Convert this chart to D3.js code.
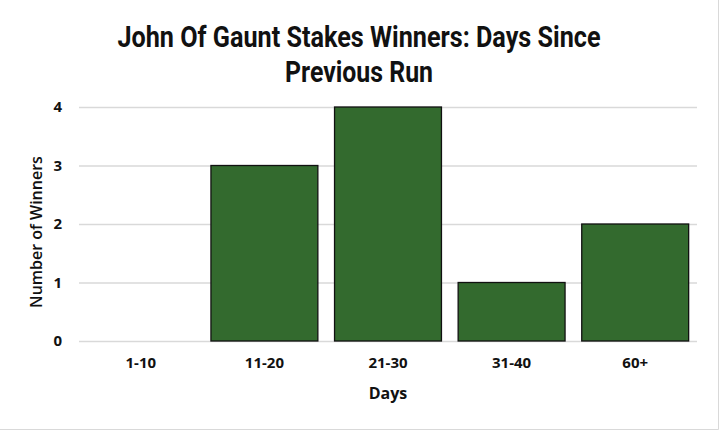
<!DOCTYPE html>
<html>
<head>
<meta charset="utf-8">
<script src="https://cdn.jsdelivr.net/npm/d3@7"></script>
<style>
  body { margin: 0; background: #fff; }
  svg { display: block; }
</style>
</head>
<body>
<svg width="720" height="431"></svg>
<script>
const categories = ['1-10', '11-20', '21-30', '31-40', '60+'];
const winners = [0, 3, 4, 1, 2];
const yTicks = [0, 1, 2, 3, 4];
const titleLines = ['John Of Gaunt Stakes Winners: Days Since', 'Previous Run'];

const svg = d3.select('svg');
const width = +svg.attr('width');
const height = +svg.attr('height');
const margin = { top: 107, right: 23, bottom: 90, left: 79 };
const innerWidth = width - margin.left - margin.right;
const innerHeight = height - margin.top - margin.bottom;

// chart frame: only the right and bottom edges show in the picture
svg.append('path')
  .attr('d', `M${width - 1.5},0 V${height - 1.5} H0`)
  .attr('fill', 'none')
  .attr('stroke', '#d9d9d9');

// title is a narrow bold face in the original; squeeze Roboto to the same width
const titleWidths = [483, 148];
svg.append('g').selectAll('text')
  .data(titleLines)
  .enter().append('text')
    .attr('x', 359)
    .attr('y', (d, i) => 47 + i * 35)
    .attr('text-anchor', 'middle')
    .attr('font-family', 'Roboto, sans-serif')
    .attr('font-weight', 'bold')
    .attr('font-size', 29)
    .attr('fill', '#111')
    .attr('textLength', (d, i) => titleWidths[i])
    .attr('lengthAdjust', 'spacingAndGlyphs')
    .text(d => d);

const g = svg.append('g')
  .attr('transform', `translate(${margin.left},${margin.top})`);

const xScale = d3.scaleBand()
  .domain(categories)
  .range([0, innerWidth])
  .paddingInner(0.135)
  .paddingOuter(0.0675);

const yScale = d3.scaleLinear()
  .domain([0, 4])
  .range([innerHeight, 0]);

const yAxis = d3.axisLeft(yScale)
  .tickValues(yTicks)
  .tickFormat(d3.format('d'))
  .tickSize(-innerWidth)
  .tickPadding(17);

const yAxisG = g.append('g').call(yAxis);
yAxisG.select('.domain').remove();
yAxisG.selectAll('line').attr('stroke', '#d9d9d9').attr('stroke-width', 1.3);
yAxisG.selectAll('text')
  .attr('font-family', '"Open Sans", sans-serif')
  .attr('font-weight', 'bold')
  .attr('font-size', 15)
  .attr('fill', '#111');

const xAxis = d3.axisBottom(xScale)
  .tickSize(0)
  .tickPadding(16);

const xAxisG = g.append('g')
  .attr('transform', `translate(0,${innerHeight})`)
  .call(xAxis);
xAxisG.select('.domain').remove();
xAxisG.selectAll('text')
  .attr('font-family', '"Open Sans", sans-serif')
  .attr('font-weight', 'bold')
  .attr('font-size', 15)
  .attr('fill', '#111');

g.selectAll('rect.bar').data(winners.map((v, i) => ({ cat: categories[i], v })))
  .enter().append('rect')
    .attr('class', 'bar')
    .attr('x', d => xScale(d.cat))
    .attr('y', d => yScale(d.v))
    .attr('width', xScale.bandwidth())
    .attr('height', d => innerHeight - yScale(d.v))
    .attr('fill', d => d.v > 0 ? '#336a2e' : 'none')
    .attr('stroke', d => d.v > 0 ? '#111' : 'none')
    .attr('stroke-width', 1.3);

g.append('text')
  .attr('x', innerWidth / 2)
  .attr('y', innerHeight + 58)
  .attr('text-anchor', 'middle')
  .attr('font-family', '"Open Sans", sans-serif')
  .attr('font-weight', 'bold')
  .attr('font-size', 16)
  .attr('fill', '#111')
  .text('Days');

svg.append('text')
  .attr('transform', `translate(42,232) rotate(-90)`)
  .attr('text-anchor', 'middle')
  .attr('font-family', '"Open Sans", sans-serif')
  .attr('font-weight', 600)
  .attr('font-size', 16)
  .attr('fill', '#111')
  .text('Number of Winners');
</script>
</body>
</html>
